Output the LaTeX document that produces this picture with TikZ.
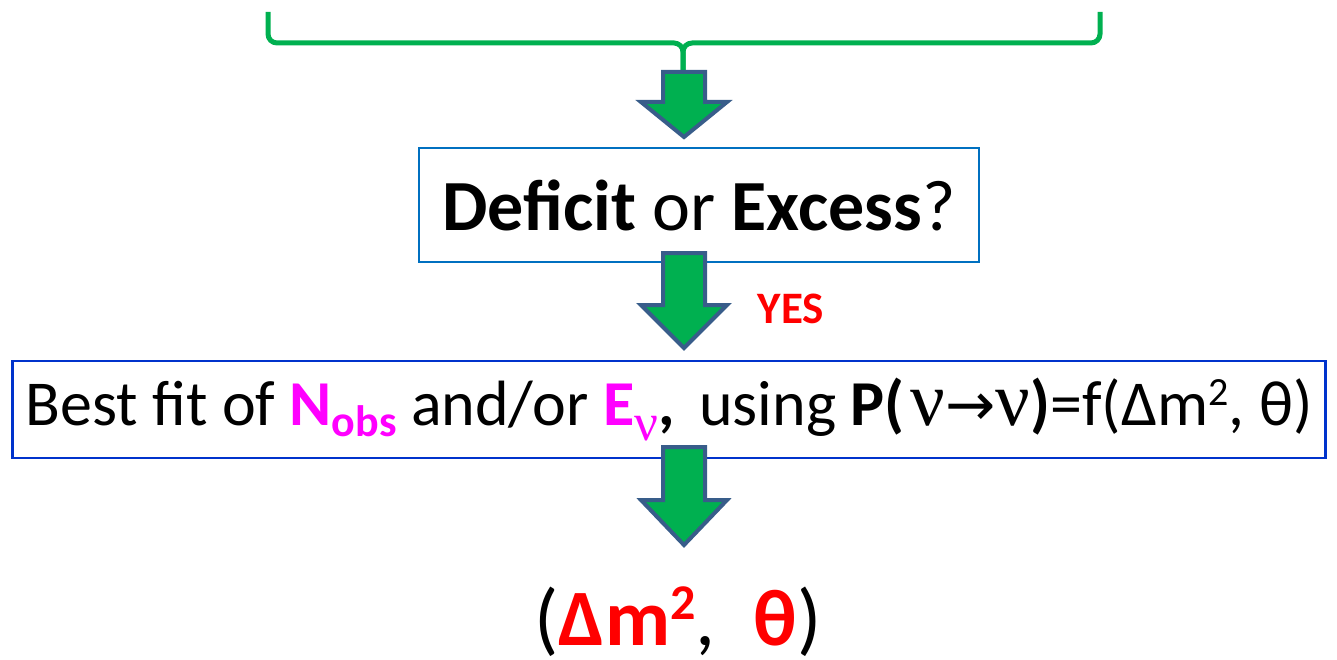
\documentclass[tikz,border=0pt]{standalone}
\usepackage{fontspec}
\setmainfont{Carlito}
\newfontfamily\greekfont[Scale=1.2]{Liberation Serif}
\newfontfamily\arrowfont{DejaVu Sans}
\usepackage{xcolor}
\definecolor{bracegreen}{RGB}{0,176,80}
\definecolor{arrowedge}{RGB}{56,93,138}
\definecolor{boxblue}{RGB}{0,112,192}
\definecolor{fitblue}{RGB}{0,51,204}
\definecolor{yesred}{RGB}{255,0,0}
\definecolor{pinkmag}{RGB}{255,0,255}
% block arrow pointing down, centred on x=684: #1 top, #2 head, #3 tip
\newcommand{\blockarrow}[3]{%
  \draw[arrowedge, line width=4bp, fill=bracegreen, line join=miter]
    (663,#1) -- (705,#1) -- (705,#2) -- (727,#2) -- (684,#3) -- (641,#2) -- (663,#2) -- cycle;}
\newcommand{\subtext}[2]{\lower#1\hbox{\fontsize{44bp}{44bp}\selectfont #2}}
\newcommand{\suptwo}[2]{\raisebox{#1}{\fontsize{#2}{#2}\selectfont 2}}

\begin{document}
\begin{tikzpicture}[x=1bp, y=-1bp,
    flowbox/.style={draw, line width=2.5bp, inner sep=0pt}]
  \useasboundingbox (0,0) rectangle (1337,660);
  % brace gathering the inputs
  \coordinate (bracetop) at (683,72);
  \draw[bracegreen, line width=5bp, rounded corners=9bp]
    (268,12) -- (268,43) -- (683,43) -- (bracetop);
  \draw[bracegreen, line width=5bp, rounded corners=9bp]
    (1100,12) -- (1100,43) -- (683,43) -- (bracetop);
  \blockarrow{72}{102}{137}
  \node[flowbox, draw=boxblue, minimum width=562, minimum height=114,
        font=\fontsize{72bp}{86bp}\selectfont] (deficit) at (699,205)
    {{\bfseries Deficit} or {\bfseries Excess}?};
  \node[font=\fontsize{45bp}{50bp}\selectfont\bfseries, text=yesred] (yes) at (791,309) {YES};
  \node[flowbox, draw=fitblue, minimum width=1318, minimum height=97,
        font=\fontsize{64bp}{74bp}\selectfont] (bestfit) at (669,409.5)
    {Best fit of {\bfseries\color{pinkmag}N\subtext{11bp}{obs}} and/or
     {\bfseries\color{pinkmag}E\subtext{15bp}{\mdseries\greekfont ν}}{\bfseries ,}\hspace{10bp} using
     {\bfseries P(}\hspace{6bp}{\greekfont ν}{\arrowfont\fontsize{60bp}{60bp}\selectfont →}{\greekfont ν}{\bfseries )}=f(Δm\suptwo{20bp}{40bp}, θ)};
  \blockarrow{253}{305}{348}
  \blockarrow{447}{500}{545}
  \node[anchor=base west, font=\fontsize{80bp}{92bp}\selectfont] (result) at (531,645)
    {({\bfseries\color{yesred}Δm\suptwo{26bp}{50bp}},\hspace{20bp} {\bfseries\color{yesred}θ})};
\end{tikzpicture}
\end{document}
